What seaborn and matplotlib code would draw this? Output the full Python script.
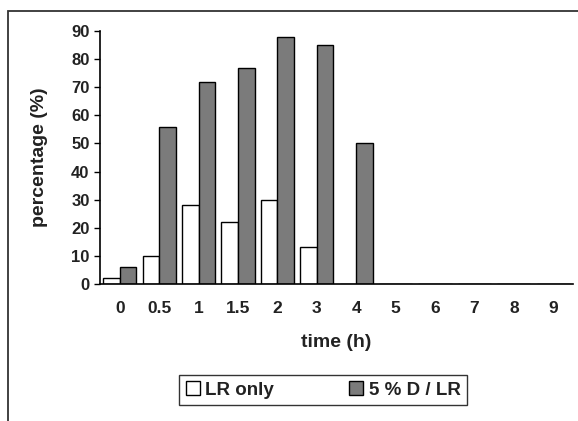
import matplotlib
matplotlib.use("Agg")
import matplotlib.pyplot as plt
import seaborn as sns
import pandas as pd
from matplotlib.patches import Rectangle

times = ["0", "0.5", "1", "1.5", "2", "3", "4", "5", "6", "7", "8", "9"]
lr_only = [2, 10, 28, 22, 30, 13, 0, 0, 0, 0, 0, 0]
d_lr = [6, 56, 72, 77, 88, 85, 50, 0, 0, 0, 0, 0]
series_names = ["LR only", "5 % D / LR"]
yticks = [0, 10, 20, 30, 40, 50, 60, 70, 80, 90]

df = pd.DataFrame({
    "time": times * 2,
    "value": lr_only + d_lr,
    "series": [series_names[0]] * len(times) + [series_names[1]] * len(times),
})

sns.set_style("white")
plt.rcParams["font.family"] = ["Liberation Sans", "DejaVu Sans"]
plt.rcParams["font.weight"] = "bold"

fig = plt.figure(figsize=(5.78, 4.21), dpi=100)
ax = fig.add_axes([100 / 578, 1 - 284 / 421, 473 / 578, 253 / 421])

sns.barplot(data=df, x="time", y="value", hue="series", order=times,
            hue_order=series_names, palette=["white", "#7b7b7b"],
            edgecolor="black", linewidth=1.0, width=0.84, ax=ax, legend=True)

ax.set_xlim(-0.5, len(times) - 0.5)
ax.set_ylim(0, 90)
ax.set_yticks(yticks)
ax.set_yticklabels([str(v) for v in yticks], fontsize=12, fontweight="bold", color="#222222")
ax.set_xticklabels(times, fontsize=12.5, fontweight="bold", color="#222222")
ax.tick_params(axis="x", length=0, pad=12)
ax.tick_params(axis="y", length=4.5, width=1, direction="out", pad=3, left=True, color="black")
for s in ["top", "right"]:
    ax.spines[s].set_visible(False)
for s in ["left", "bottom"]:
    ax.spines[s].set_color("black")
    ax.spines[s].set_linewidth(1.2)
ax.set_xlabel("time (h)", fontsize=14, fontweight="bold", labelpad=13, color="#222222")
ax.set_ylabel("percentage (%)", fontsize=14, fontweight="bold", labelpad=17, color="#222222")

handles, labels = ax.get_legend_handles_labels()
ax.get_legend().remove()
leg = fig.legend(handles, labels, loc="center", bbox_to_anchor=(323 / 578, 1 - 390 / 421),
                 ncol=2, frameon=True, fancybox=False, handlelength=0.75, handleheight=0.75,
                 handletextpad=0.3, columnspacing=4.0, borderpad=0.35, borderaxespad=0,
                 prop={"size": 13.5, "weight": "bold"})
leg.get_frame().set_edgecolor("black")
leg.get_frame().set_linewidth(1.0)
for t in leg.get_texts():
    t.set_color("#222222")

fig.add_artist(Rectangle((8 / 578, -0.1), 1.2, 1 - 11 / 421 + 0.1, transform=fig.transFigure,
                         fill=False, edgecolor="#333333", linewidth=1.3))

fig.savefig("out.png", dpi=100)
